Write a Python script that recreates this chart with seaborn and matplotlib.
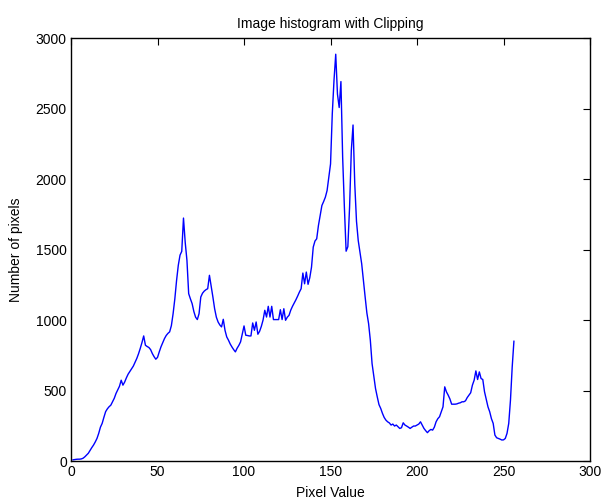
import numpy as np
import pandas as pd
import matplotlib
matplotlib.use("Agg")
import matplotlib.pyplot as plt
import seaborn as sns

pixel_values = list(range(1, 257))
counts = [
    8, 10, 12, 13, 13,
    15, 20, 30, 42, 55,
    75, 95, 113, 135, 160,
    196, 240, 267, 310, 350,
    370, 385, 396, 420, 445,
    479, 505, 530, 573, 538,
    560, 590, 616, 635, 655,
    673, 700, 727, 760, 798,
    840, 887, 821, 812, 805,
    790, 762, 740, 722, 735,
    774, 810, 840, 868, 890,
    905, 916, 960, 1045, 1150,
    1280, 1388, 1460, 1487, 1723,
    1550, 1423, 1187, 1150, 1116,
    1060, 1020, 1003, 1045, 1163,
    1190, 1205, 1215, 1222, 1317,
    1240, 1163, 1080, 1020, 986,
    965, 951, 1005, 927, 880,
    857, 830, 809, 790, 774,
    800, 820, 845, 900, 958,
    892, 890, 887, 887, 979,
    927, 986, 899, 920, 955,
    1000, 1069, 1021, 1097, 1021,
    1097, 1003, 1003, 1003, 1003,
    1073, 1003, 1080, 998, 1020,
    1033, 1070, 1097, 1120, 1144,
    1170, 1198, 1222, 1333, 1257,
    1340, 1253, 1300, 1375, 1517,
    1560, 1576, 1670, 1741, 1812,
    1840, 1871, 1918, 2012, 2107,
    2461, 2700, 2885, 2602, 2507,
    2691, 2154, 1800, 1488, 1520,
    1800, 2201, 2383, 1965, 1700,
    1564, 1480, 1399, 1280, 1163,
    1050, 974, 856, 691, 600,
    514, 455, 400, 373, 338,
    309, 290, 278, 270, 255,
    262, 248, 255, 243, 231,
    236, 271, 255, 248, 240,
    231, 240, 248, 248, 255,
    262, 278, 255, 231, 215,
    201, 215, 224, 219, 240,
    278, 300, 314, 350, 384,
    526, 490, 467, 440, 403,
    403, 403, 405, 410, 413,
    420, 420, 427, 450, 467,
    484, 538, 573, 639, 578,
    632, 585, 578, 491, 437,
    384, 349, 300, 267, 184,
    165, 160, 155, 149, 150,
    160, 196, 267, 432, 667,
    851,
]
x_ticks = [0, 50, 100, 150, 200, 250, 300]
y_ticks = [0, 500, 1000, 1500, 2000, 2500, 3000]

sns.set_theme(style="white")
plt.rcParams['font.family'] = ['Liberation Sans', 'DejaVu Sans']

df = pd.DataFrame({"Pixel Value": pixel_values, "Number of pixels": counts})

fig = plt.figure(figsize=(6.05, 5.04), dpi=100)
ax = fig.add_axes([0.1174, 0.0853, 0.8579, 0.8393])
sns.lineplot(data=df, x="Pixel Value", y="Number of pixels", color="#0000FF",
             linewidth=1.0, ax=ax)

ax.set_xlim(0, 300)
ax.set_ylim(0, 3000)
ax.set_xticks(x_ticks)
ax.set_yticks(y_ticks)
ax.tick_params(direction="in", length=5, width=0.8, top=True, right=True,
               labelsize=10, colors="black", pad=3)
for s in ax.spines.values():
    s.set_color("black")
    s.set_linewidth(1.0)
    s.set_visible(True)
ax.set_xlabel("Pixel Value", fontsize=10, labelpad=5, color="black")
ax.set_ylabel("Number of pixels", fontsize=10, labelpad=9, color="black")
ax.set_title("Image histogram with Clipping", fontsize=10, pad=7, color="black")

fig.savefig("out.png", dpi=100)
